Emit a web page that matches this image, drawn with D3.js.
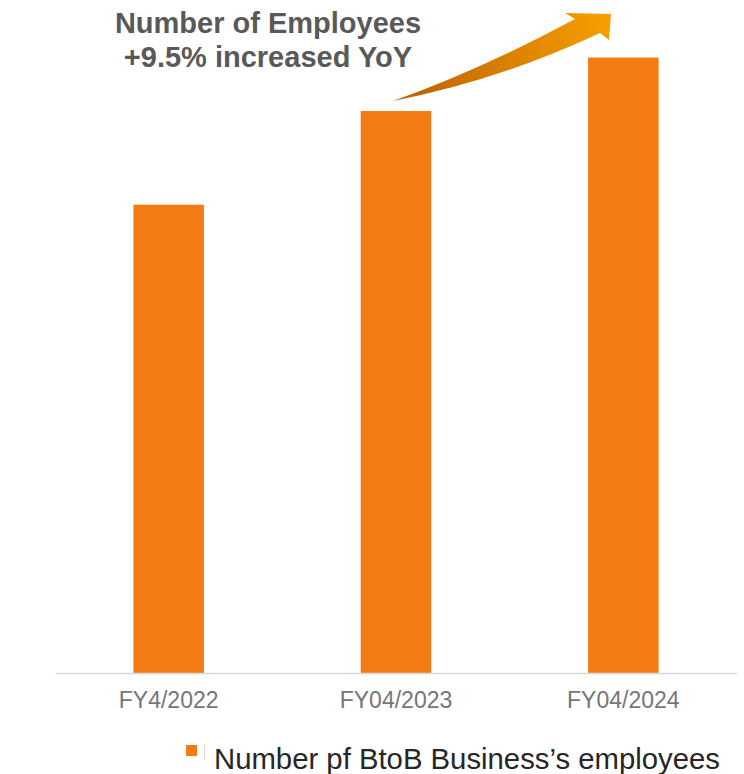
<!DOCTYPE html>
<html>
<head>
<meta charset="utf-8">
<script src="https://cdn.jsdelivr.net/npm/d3@7"></script>
<style>
  body { margin: 0; background: #fff; }
  svg { display: block; font-family: "Liberation Sans", Arial, sans-serif; }
</style>
</head>
<body>
<svg id="chart" width="744" height="774"></svg>
<script>
// data
var categories = ["FY4/2022", "FY04/2023", "FY04/2024"];
var employees = [2450, 2940, 3220];
var titleLines = ["Number of Employees", "+9.5% increased YoY"];
var legendLabel = "Number pf BtoB Business\u2019s employees";

var width = 744, height = 774;
var margin = { top: 4, right: 7, bottom: 101, left: 55 };

const svg = d3.select("#chart");

var x = d3.scaleBand()
    .domain(categories)
    .range([margin.left, width - margin.right])
    .paddingInner(0.69)
    .paddingOuter(0.345);

var y = d3.scaleLinear()
    .domain([0, 3500])
    .range([height - margin.bottom, margin.top]);

// bars
svg.append("g")
    .selectAll("rect")
    .data(employees)
    .join("rect")
    .attr("x", (d, i) => x(categories[i]))
    .attr("y", d => y(d))
    .attr("width", x.bandwidth())
    .attr("height", d => y(0) - y(d))
    .attr("fill", "#f47a14");

// x axis
const xAxis = svg.append("g")
    .attr("transform", "translate(0," + y(0) + ")")
    .call(d3.axisBottom(x).tickSize(0).tickPadding(19));
xAxis.select(".domain").attr("stroke", "#d9d9d9").attr("stroke-width", 1.5);
xAxis.selectAll("text")
    .attr("fill", "#767676")
    .attr("font-size", 23)
    .attr("font-family", "Liberation Sans, Arial, sans-serif");

// title
svg.append("g")
    .selectAll("text")
    .data(titleLines)
    .join("text")
    .attr("x", 268)
    .attr("y", (d, i) => 33 + i * 34)
    .attr("text-anchor", "middle")
    .attr("font-size", 29)
    .attr("font-weight", "bold")
    .attr("fill", "#595959")
    .text(d => d);

// arrow
var defs = svg.append("defs");
var grad = defs.append("linearGradient")
    .attr("id", "arrowGrad")
    .attr("gradientUnits", "userSpaceOnUse")
    .attr("x1", 393).attr("y1", 101)
    .attr("x2", 611).attr("y2", 14);
grad.append("stop").attr("offset", "0").attr("stop-color", "#b85f00");
grad.append("stop").attr("offset", "1").attr("stop-color", "#f9a000");

svg.append("path")
    .attr("d", "M393,101 Q480,70 575,19 L565,13 L611,14 L609,40 L600,33 Q500,80 393,101 Z")
    .attr("fill", "url(#arrowGrad)");

// legend
var legend = svg.append("g");
legend.append("rect")
    .attr("x", 186).attr("y", 745)
    .attr("width", 11).attr("height", 11)
    .attr("fill", "#f47a14");
legend.append("line")
    .attr("x1", 204.5).attr("x2", 204.5)
    .attr("y1", 744).attr("y2", 759)
    .attr("stroke", "#dcdcdc");
legend.append("text")
    .attr("x", 214).attr("y", 769)
    .attr("font-size", 29.3)
    .attr("fill", "#262626")
    .text(legendLabel);
</script>
</body>
</html>
